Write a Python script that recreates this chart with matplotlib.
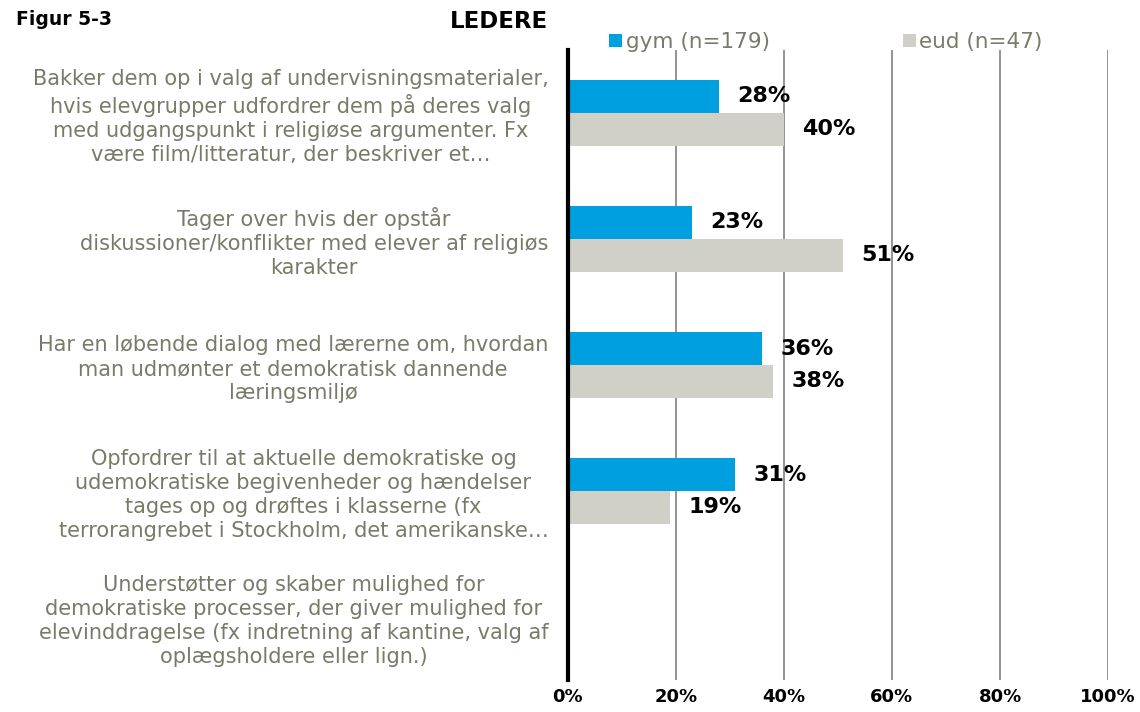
import numpy as np
import matplotlib.pyplot as plt

plt.rcParams['font.family'] = ['DejaVu Sans']

categories = [
    "Bakker dem op i valg af undervisningsmaterialer,\nhvis elevgrupper udfordrer dem på deres valg\nmed udgangspunkt i religiøse argumenter. Fx\nvære film/litteratur, der beskriver et…",
    "Tager over hvis der opstår\ndiskussioner/konflikter med elever af religiøs\nkarakter",
    "Har en løbende dialog med lærerne om, hvordan\nman udmønter et demokratisk dannende\nlæringsmiljø",
    "Opfordrer til at aktuelle demokratiske og\nudemokratiske begivenheder og hændelser\ntages op og drøftes i klasserne (fx\nterrorangrebet i Stockholm, det amerikanske…",
    "Understøtter og skaber mulighed for\ndemokratiske processer, der giver mulighed for\nelevinddragelse (fx indretning af kantine, valg af\noplægsholdere eller lign.)",
]
gym = [28, 23, 36, 31, None]
eud = [40, 51, 38, 19, None]
series_names = ["gym (n=179)", "eud (n=47)"]
xticks = [0, 20, 40, 60, 80, 100]

blue = "#009FDF"
grey = "#D0D0C8"
label_col = "#7A7A6A"

fig = plt.figure(figsize=(11.4, 7.12), dpi=100)
ax = fig.add_axes([0.498, 0.045, 0.474, 0.885])

y = np.arange(len(categories))
h = 0.26
for i in range(len(categories)):
    if gym[i] is not None:
        ax.barh(y[i] - h / 2, gym[i], height=h, color=blue, zorder=3,
                label=series_names[0] if i == 0 else None)
        ax.text(gym[i] + 3.4, y[i] - h / 2, f"{gym[i]}%", va="center", ha="left",
                fontsize=16, fontweight="bold", color="black", zorder=4)
    if eud[i] is not None:
        ax.barh(y[i] + h / 2, eud[i], height=h, color=grey, zorder=3,
                label=series_names[1] if i == 0 else None)
        ax.text(eud[i] + 3.4, y[i] + h / 2, f"{eud[i]}%", va="center", ha="left",
                fontsize=16, fontweight="bold", color="black", zorder=4)

ax.set_xlim(0, 100)
ax.set_ylim(len(categories) - 0.5, -0.5)
ax.set_xticks(xticks)
ax.set_xticklabels([f"{t}%" for t in xticks], fontsize=13, fontweight="bold")
ax.set_yticks(y)
ax.set_yticklabels(categories, fontsize=15, color=label_col,
                   multialignment="center", linespacing=1.25)
ax.tick_params(axis="y", length=0, pad=14)
ax.tick_params(axis="x", length=0, pad=6)

for g in xticks[1:]:
    ax.axvline(g, color="#808080", lw=1.2, zorder=1)
for s in ["top", "right", "bottom"]:
    ax.spines[s].set_visible(False)
ax.spines["left"].set_linewidth(3)
ax.spines["left"].set_color("black")
ax.spines["left"].set_zorder(5)

fig.text(0.014, 0.973, "Figur 5-3", fontsize=13.5, fontweight="bold", va="center")
fig.text(0.395, 0.97, "LEDERE", fontsize=16.5, fontweight="bold", va="center")

fig.legend(loc="center left", bbox_to_anchor=(0.527, 0.941), ncol=2, frameon=False,
           fontsize=15.5, labelcolor=label_col, handlelength=0.6, handleheight=0.6,
           handletextpad=0.15, columnspacing=6.2, borderaxespad=0)

fig.savefig("out.png", dpi=100)
